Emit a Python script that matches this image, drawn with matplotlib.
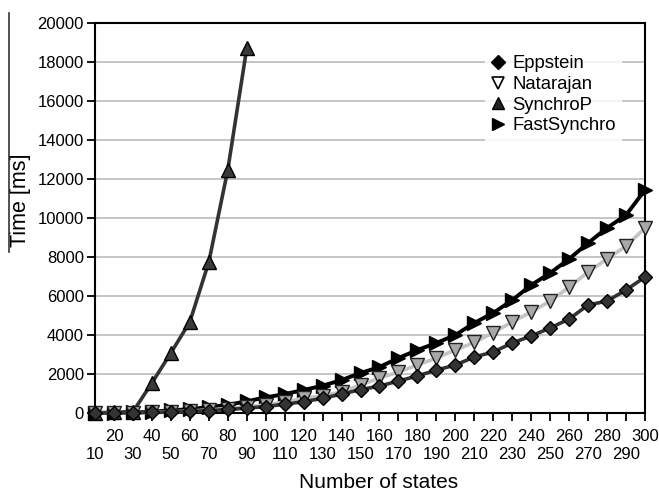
import matplotlib
matplotlib.use("Agg")
import matplotlib.pyplot as plt
from matplotlib.lines import Line2D

plt.rcParams['font.family'] = ['Liberation Sans', 'DejaVu Sans']

states = list(range(10, 301, 10))
eppstein = [0, 5, 15, 30, 50, 80, 120, 180, 250, 330, 450, 580, 750, 970, 1200,
            1380, 1640, 1900, 2200, 2460, 2870, 3130, 3590, 3950, 4360, 4820,
            5540, 5740, 6310, 6970]
natarajan = [0, 5, 15, 30, 60, 100, 160, 230, 300, 420, 560, 750, 880, 1080, 1440,
             1790, 2100, 2460, 2820, 3230, 3620, 4120, 4670, 5180, 5740, 6460,
             7230, 7900, 8560, 9490]
synchrop_states = list(range(10, 91, 10))
synchrop = [20, 30, 60, 1540, 3080, 4670, 7740, 12460, 18700]
fastsynchro = [0, 10, 30, 70, 130, 200, 300, 420, 600, 800, 970, 1180, 1400, 1690,
               2050, 2360, 2820, 3230, 3590, 4000, 4620, 5130, 5790, 6560, 7180,
               7900, 8720, 9490, 10150, 11440]
yticks = list(range(0, 20001, 2000))

fig = plt.figure(figsize=(6.59, 4.92), dpi=100)
ax = fig.add_axes([95/659, 79/492, 550/659, 390/492])

idx = {s: i for i, s in enumerate(states)}
xs = [idx[s] for s in states]
xs_sp = [idx[s] for s in synchrop_states]

ax.plot(xs_sp, synchrop, color='#333333', lw=2.6, marker='^', ms=10,
        mfc='#3a3a3a', mec='black', mew=1.0, clip_on=False, zorder=3)
ax.plot(xs, fastsynchro, color='black', lw=2.8, marker='>', ms=10,
        mfc='black', mec='black', clip_on=False, zorder=4)
ax.plot(xs, natarajan, color='#c4c4c4', lw=2.6, marker='v', ms=10,
        mfc='#a8a8a8', mec='#222222', mew=1.0, clip_on=False, zorder=5)
ax.plot(xs, eppstein, color='#333333', lw=2.6, marker='D', ms=7.5,
        mfc='#333333', mec='black', mew=1.0, clip_on=False, zorder=6)

ax.set_xlim(0, len(states) - 1)
ax.set_ylim(0, 20000)
ax.set_yticks(yticks)
ax.set_yticklabels([str(v) for v in yticks], fontsize=12)
ax.grid(axis='y', color='#c0c0c0', lw=1.3)
ax.set_axisbelow(True)

odd = [i for i in range(len(states)) if i % 2 == 1]
even = [i for i in range(len(states)) if i % 2 == 0]
ax.set_xticks(odd)
ax.set_xticklabels([str(states[i]) for i in odd], fontsize=12)
ax.set_xticks(even, minor=True)
ax.set_xticklabels([str(states[i]) for i in even], minor=True, fontsize=12)
ax.tick_params(axis='x', which='major', length=6, width=1.3, pad=5.5)
ax.tick_params(axis='x', which='minor', length=6, width=1.3, pad=18.5)
ax.tick_params(axis='y', length=6, width=1.3, pad=2)

for sp in ax.spines.values():
    sp.set_linewidth(1.5)
    sp.set_color('black')

ax.set_ylabel('Time [ms]', fontsize=15.5)
ax.yaxis.set_label_coords(-0.1165, 0.545)
ax.set_xlabel('Number of states', fontsize=15)
ax.xaxis.set_label_coords(0.516, -0.155)

handles = [
    Line2D([], [], ls='none', marker='D', ms=7, mfc='black', mec='black'),
    Line2D([], [], ls='none', marker='v', ms=9, mfc='white', mec='black', mew=1.2),
    Line2D([], [], ls='none', marker='^', ms=9, mfc='#222222', mec='black'),
    Line2D([], [], ls='none', marker='>', ms=9, mfc='black', mec='black'),
]
labels = ['Eppstein', 'Natarajan', 'SynchroP', 'FastSynchro']
leg = ax.legend(handles, labels, loc='upper left', bbox_to_anchor=(381/550, 0.955),
                frameon=True, fontsize=13.3, handlelength=0.8, handletextpad=0.35,
                labelspacing=0.2, borderpad=0.3, fancybox=False)
leg.get_frame().set_facecolor('white')
leg.get_frame().set_edgecolor('white')

fig.add_artist(Line2D([9/659, 9/659], [1 - 13/492, 1 - 252/492],
                      color='#333333', lw=1.2))

fig.savefig('out.png', dpi=100)
